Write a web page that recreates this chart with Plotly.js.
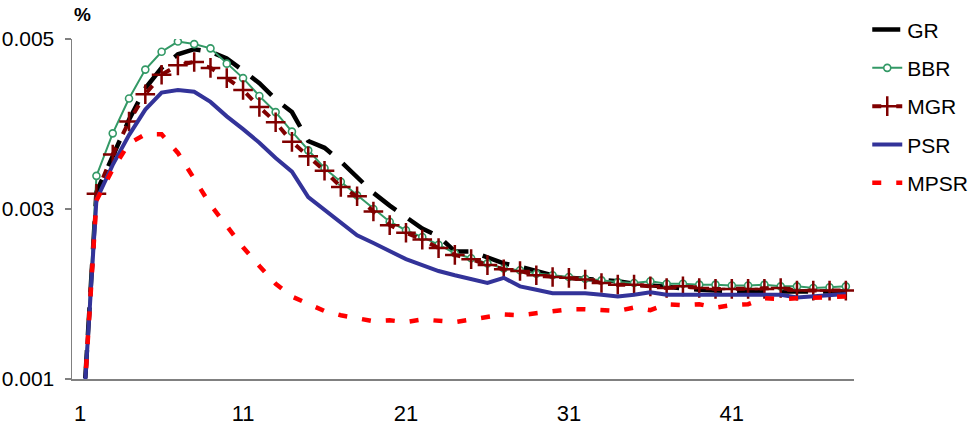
<!DOCTYPE html>
<html>
<head>
<meta charset="utf-8">
<script src="https://cdn.plot.ly/plotly-3.0.1.min.js"></script>
<style>html,body{margin:0;padding:0;background:#fff;}#chart{width:969px;height:427px;}</style>
</head>
<body>
<div id="chart"></div>
<script>
const periods = Array.from({length: 48}, (_, i) => i + 1);
const xTickVals = [1, 11, 21, 31, 41];
const yTickVals = [0.001, 0.003, 0.005];
const yTickText = ['0.001', '0.003', '0.005'];

const GR = [0, 0.00320, 0.00362, 0.00405, 0.00442, 0.00466, 0.00482, 0.00488, 0.00485, 0.00477,
  0.00463, 0.00448, 0.00429, 0.00414, 0.00380, 0.00372, 0.00356, 0.00338, 0.00319, 0.00304,
  0.00290, 0.00277, 0.00268, 0.00250, 0.00250, 0.00243, 0.00236, 0.00232, 0.00227, 0.00222,
  0.00219, 0.00218, 0.00217, 0.00215, 0.00212, 0.00210, 0.00208, 0.00206, 0.00205, 0.00204,
  0.00203, 0.00203, 0.00203, 0.00203, 0.00203, 0.00203, 0.00203, 0.00203];
const BBR = [0, 0.00339, 0.00389, 0.00430, 0.00464, 0.00485, 0.00497, 0.00494, 0.00489, 0.00471,
  0.00454, 0.00433, 0.00414, 0.00391, 0.00369, 0.00348, 0.00332, 0.00316, 0.00300, 0.00285,
  0.00275, 0.00267, 0.00258, 0.00248, 0.00242, 0.00236, 0.00230, 0.00228, 0.00224, 0.00222,
  0.00220, 0.00218, 0.00216, 0.00214, 0.00213, 0.00215, 0.00212, 0.00212, 0.00211, 0.00211,
  0.00210, 0.00210, 0.00211, 0.00209, 0.00209, 0.00207, 0.00208, 0.00209];
const MGR = [0, 0.00318, 0.00364, 0.00403, 0.00435, 0.00458, 0.00469, 0.00473, 0.00466, 0.00454,
  0.00440, 0.00420, 0.00402, 0.00379, 0.00362, 0.00345, 0.00326, 0.00315, 0.00297, 0.00281,
  0.00272, 0.00264, 0.00254, 0.00246, 0.00241, 0.00234, 0.00229, 0.00227, 0.00222, 0.00220,
  0.00219, 0.00217, 0.00213, 0.00211, 0.00211, 0.00209, 0.00207, 0.00209, 0.00207, 0.00206,
  0.00206, 0.00206, 0.00206, 0.00207, 0.00204, 0.00204, 0.00204, 0.00204];
const PSR = [0, 0.00311, 0.00352, 0.00387, 0.00417, 0.00437, 0.00440, 0.00438, 0.00426, 0.00409,
  0.00394, 0.00378, 0.00360, 0.00344, 0.00314, 0.00299, 0.00284, 0.00269, 0.00260, 0.00250,
  0.00241, 0.00234, 0.00227, 0.00222, 0.00217, 0.00213, 0.00219, 0.00209, 0.00205, 0.00201,
  0.00201, 0.00201, 0.00199, 0.00197, 0.00199, 0.00202, 0.00199, 0.00199, 0.00199, 0.00199,
  0.00199, 0.00199, 0.00199, 0.00199, 0.00196, 0.00197, 0.00199, 0.00200];
const MPSR = [0, 0.00310, 0.00347, 0.00377, 0.00388, 0.00388, 0.00366, 0.00335, 0.00305, 0.00280,
  0.00255, 0.00233, 0.00212, 0.00197, 0.00188, 0.00180, 0.00175, 0.00171, 0.00168, 0.00169,
  0.00167, 0.00170, 0.00169, 0.00167, 0.00170, 0.00173, 0.00176, 0.00175, 0.00177, 0.00180,
  0.00182, 0.00182, 0.00181, 0.00180, 0.00184, 0.00181, 0.00188, 0.00187, 0.00188, 0.00184,
  0.00187, 0.00188, 0.00195, 0.00194, 0.00195, 0.00196, 0.00196, 0.00197];

const FONT = 'Liberation Sans, Arial, sans-serif';

const traces = [
  {name: 'GR', y: GR, mode: 'lines', line: {color: '#000000', width: 4.5, dash: '28px,15px'}},
  {name: 'BBR', y: BBR, mode: 'lines+markers', line: {color: '#339966', width: 2},
   marker: {symbol: 'circle', size: 7, color: '#ffffff', line: {color: '#339966', width: 1.6}}},
  {name: 'MGR', y: MGR, mode: 'lines+markers', line: {color: '#800000', width: 4, dash: '9px,15px'},
   marker: {symbol: 'cross-thin', size: 14, color: '#800000', line: {color: '#800000', width: 2.5}}},
  {name: 'PSR', y: PSR, mode: 'lines', line: {color: '#333399', width: 4}},
  {name: 'MPSR', y: MPSR, mode: 'lines', line: {color: '#ff0000', width: 4.5, dash: '9px,15px'}}
].map((t, i) => Object.assign({x: periods, type: 'scatter', legendgroup: 'g' + i, hoverinfo: 'skip'}, t));

const layout = {
  width: 969, height: 427,
  margin: {l: 72, r: 115, t: 39, b: 48, pad: 0},
  paper_bgcolor: '#ffffff', plot_bgcolor: '#ffffff',
  font: {family: FONT, size: 21, color: '#000000'},
  showlegend: true,
  legend: {
    xref: 'container', yref: 'container', x: 0.895, y: 0.978, xanchor: 'left', yanchor: 'top',
    font: {family: FONT, size: 21, color: '#000'}, bgcolor: 'rgba(0,0,0,0)',
    traceorder: 'grouped', tracegroupgap: 8
  },
  xaxis: {
    range: [0.5, 48.5], tickvals: xTickVals, ticktext: xTickVals.map(String),
    showgrid: false, zeroline: false, showline: true, linecolor: '#808080', linewidth: 1.5,
    ticks: '', ticklabelstandoff: 14, tickfont: {family: FONT, size: 22}
  },
  yaxis: {
    range: [0.001, 0.005], tickvals: yTickVals, ticktext: yTickText,
    showgrid: false, zeroline: false, showline: true, linecolor: '#808080', linewidth: 1.5,
    ticks: 'outside', ticklen: 6, tickwidth: 1.5, tickcolor: '#808080',
    ticklabelstandoff: 6, tickfont: {family: FONT, size: 21}
  },
  annotations: [{
    text: '<b>%</b>', xref: 'paper', yref: 'paper', x: 0.0128, xanchor: 'center',
    y: 1.0735, yanchor: 'middle', showarrow: false,
    font: {family: FONT, size: 19, color: '#000'}
  }]
};

Plotly.newPlot('chart', traces, layout, {staticPlot: true, displayModeBar: false});
</script>
</body>
</html>
